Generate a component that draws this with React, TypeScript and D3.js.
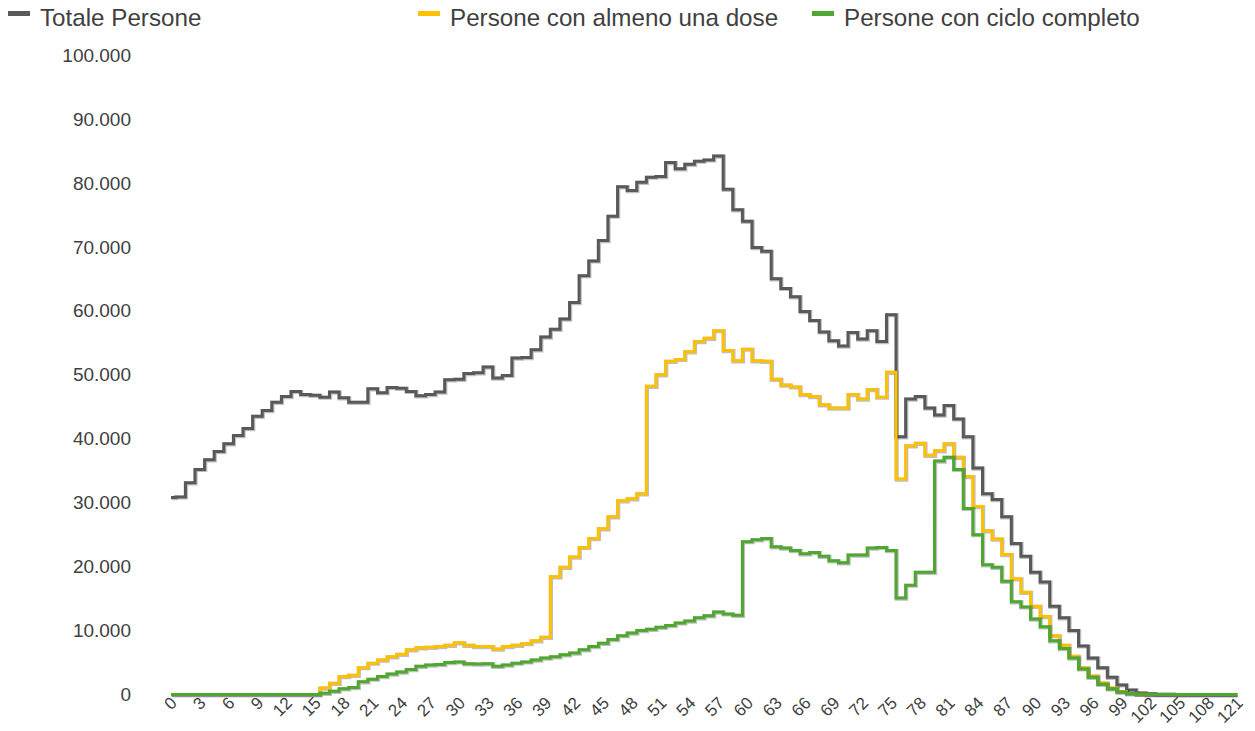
import * as d3 from 'd3';

// età 0..110 più l'ultima classe "121"
const ages: string[] = [...d3.range(0, 111).map(String), '121'];

const totalePersone = [
  30800, 30900, 33100, 35200, 36700, 38000, 39200, 40500, 41600, 43500,
  44400, 45700, 46600, 47400, 46900, 46800, 46500, 47300, 46400, 45700,
  45700, 47800, 47200, 48000, 47900, 47400, 46700, 46900, 47300, 49200,
  49300, 50200, 50300, 51200, 49500, 49900, 52600, 52700, 53900, 55900,
  57100, 58700, 61300, 65500, 67800, 71000, 74800, 79400, 78800, 80100,
  80900, 81000, 83200, 82200, 82900, 83400, 83600, 84200, 79000, 75800,
  74000, 69900, 69300, 65000, 63500, 62200, 59900, 58500, 56700, 55300,
  54500, 56600, 55600, 56900, 55200, 59400, 40300, 46200, 46600, 44800,
  43700, 45200, 43100, 40300, 35400, 31400, 30500, 27800, 23600, 21600,
  19100, 17600, 13800, 12000, 10000, 7600, 5700, 4200, 2700, 1500,
  700, 250, 100, 50, 20, 10, 5, 0, 0, 0,
  0, 0
];

const almenoUnaDose = [
  0, 0, 0, 0, 0, 0, 0, 0, 0, 0,
  0, 0, 0, 0, 0, 0, 1000, 1750, 2800, 3000,
  4200, 4900, 5400, 5900, 6300, 7000, 7300, 7400, 7500, 7700,
  8100, 7700, 7500, 7500, 7100, 7500, 7700, 7950, 8400, 8950,
  18400, 19900, 21500, 23000, 24400, 25900, 27800, 30300, 30600, 31400,
  48200, 50000, 52100, 52400, 53600, 55200, 55700, 56900, 53800, 52200,
  54000, 52200, 52100, 49300, 48400, 48100, 46900, 46600, 45300, 44800,
  44800, 46900, 46200, 47700, 46500, 50400, 33700, 38900, 39300, 37400,
  38100, 39200, 37100, 34100, 29400, 25600, 24300, 21900, 18100, 16000,
  13800, 12200, 9200, 7700, 6000, 4200, 2900, 1800, 1000, 450,
  150, 50, 0, 0, 0, 0, 0, 0, 0, 0,
  0, 0
];

const cicloCompleto = [
  0, 0, 0, 0, 0, 0, 0, 0, 0, 0,
  0, 0, 0, 0, 0, 0, 200, 500, 900, 1100,
  2000, 2400, 2800, 3200, 3500, 3900, 4400, 4600, 4700, 5000,
  5100, 4800, 4750, 4800, 4400, 4600, 4900, 5100, 5400, 5700,
  5900, 6200, 6500, 7000, 7500, 8000, 8600, 9200, 9600, 10000,
  10200, 10500, 10800, 11200, 11500, 12000, 12300, 12900, 12600, 12400,
  23900, 24200, 24400, 23100, 22900, 22500, 22000, 22200, 21600, 20900,
  20600, 21800, 21800, 22900, 23000, 22500, 15100, 17100, 19100, 19100,
  36500, 37100, 35200, 29100, 25000, 20300, 19900, 17700, 14500, 13700,
  11800, 10600, 8400, 7200, 5700, 4000, 2700, 1600, 900, 400,
  150, 50, 0, 0, 0, 0, 0, 0, 0, 0,
  0, 0
];

const seriesNames = ['Totale Persone', 'Persone con almeno una dose', 'Persone con ciclo completo'];
const seriesColors = ['#595959', '#FFC000', '#4EA72E'];
const yTicks = d3.range(0, 100001, 10000);

const W = 1255;
const H = 731;
const font = 'Liberation Sans, Arial, sans-serif';

const itLocale = d3.formatLocale({ decimal: ',', thousands: '.', grouping: [3], currency: ['€', ''] });
const fmt = itLocale.format(',d');

export default function App() {
  const x = d3.scalePoint<string>().domain(ages).range([171, 1237]);
  const y = d3.scaleLinear().domain([0, 100000]).range([694.5, 55]);

  const line = d3.line<number>()
    .x((_, i) => x(ages[i]) as number)
    .y(d => y(d))
    .curve(d3.curveStep);

  const allSeries = [totalePersone, almenoUnaDose, cicloCompleto];
  const legendX = [8, 418, 812];

  return (
    <div style={{ position: 'fixed', left: 0, top: 0 }}>
      <svg width={W} height={H} style={{ display: 'block', background: '#fff' }}>
        {/* legenda */}
        {seriesNames.map((name, i) => (
          <g key={name} transform={`translate(${legendX[i]},0)`}>
            <rect x={0} y={11} width={22} height={5} fill={seriesColors[i]} />
            <text x={32} y={26} fontFamily={font} fontSize={24.2} fill="#404040">{name}</text>
          </g>
        ))}

        {/* asse y */}
        {yTicks.map(t => (
          <text key={t} x={131} y={y(t)} dy="0.35em" textAnchor="end"
            fontFamily={font} fontSize={19} fill="#404040">{fmt(t)}</text>
        ))}

        {/* asse x */}
        {ages.map((a, i) => i % 3 === 0 ? (
          <text key={a} transform={`translate(${(x(a) as number) + 7},${704}) rotate(-45)`}
            textAnchor="end" fontFamily={font} fontSize={17} fill="#404040">{a}</text>
        ) : null)}

        {/* linee */}
        {allSeries.map((s, i) => (
          <g key={i}>
            <path d={line(s) as string} fill="none" stroke="#000" strokeOpacity={0.25}
              strokeWidth={4.2} transform="translate(0.6,0.6)" />
            <path d={line(s) as string} fill="none" stroke={seriesColors[i]} strokeWidth={3} />
          </g>
        ))}
      </svg>
    </div>
  );
}
